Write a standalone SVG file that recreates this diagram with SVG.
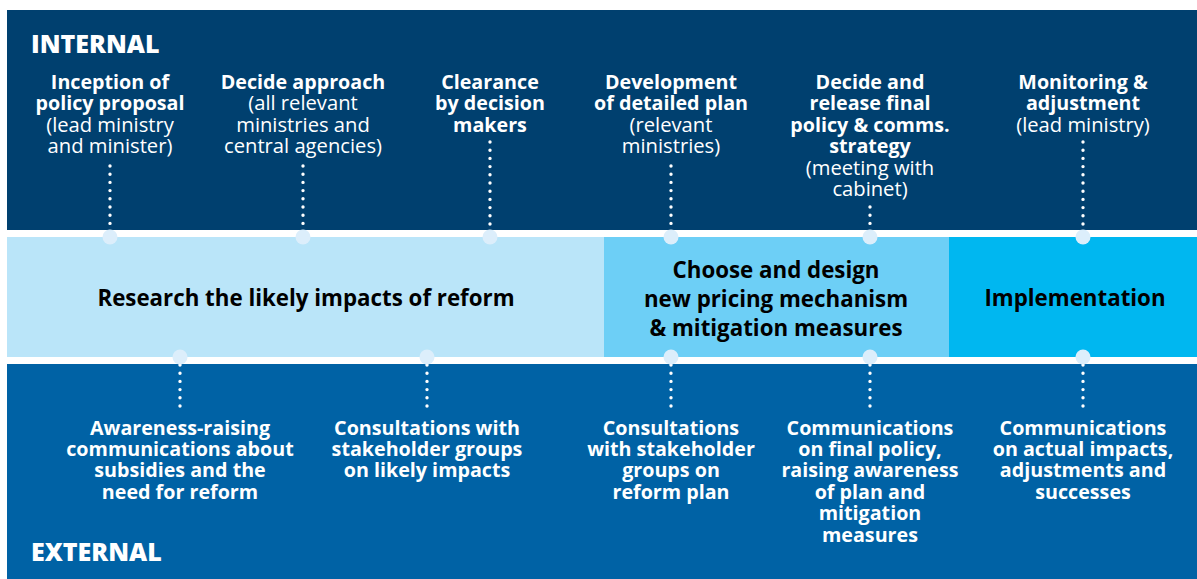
<svg xmlns="http://www.w3.org/2000/svg" width="1197" height="579" viewBox="0 0 1197 579">
<style>
.b{font-family:"Open Sans","Liberation Sans",sans-serif;font-weight:700;font-size:19.7px;fill:#fff;text-anchor:middle}
.r{font-family:"Open Sans","Liberation Sans",sans-serif;font-weight:400;font-size:20.2px;fill:#fff;text-anchor:middle}
.m{font-family:"Open Sans","Liberation Sans",sans-serif;font-weight:700;font-size:22.3px;fill:#000;text-anchor:middle}
.h{font-family:"Open Sans","Liberation Sans",sans-serif;font-weight:800;font-size:25px;fill:#fff}
.dl{stroke:#fff;stroke-width:3.4;stroke-linecap:round;stroke-dasharray:0 8.2;fill:none}
.c{fill:#DCEEFB}
</style>
<rect width="1197" height="579" fill="#fff"/>
<g id="bands">
<rect x="7" y="10" width="1190" height="220" fill="#00406F"/>
<rect x="7" y="364" width="1190" height="215" fill="#0062A5"/>
</g>
<g id="phase-research"><rect x="7" y="237" width="597" height="120" fill="#BAE5F9"/><text class="m" x="306" y="306">Research the likely impacts of reform</text></g>
<g id="phase-design"><rect x="604" y="237" width="345" height="120" fill="#6DCFF6"/><text class="m" x="776" y="278">Choose and design</text><text class="m" x="776" y="307">new pricing mechanism</text><text class="m" x="776" y="336">&amp; mitigation measures</text></g>
<g id="phase-impl"><rect x="949" y="237" width="248" height="120" fill="#00B7F0"/><text class="m" x="1075" y="306">Implementation</text></g>
<g id="label-internal"><text class="h" x="31" y="52.5">INTERNAL</text></g>
<g id="label-external"><text class="h" x="31" y="560.5">EXTERNAL</text></g>
<g id="connectors">
<line class="dl" x1="110" y1="166" x2="110" y2="232"/>
<line class="dl" x1="303" y1="166" x2="303" y2="232"/>
<line class="dl" x1="490" y1="142" x2="490" y2="232"/>
<line class="dl" x1="671" y1="166" x2="671" y2="232"/>
<line class="dl" x1="870" y1="207" x2="870" y2="232"/>
<line class="dl" x1="1083" y1="142" x2="1083" y2="232"/>
<line class="dl" x1="180" y1="365" x2="180" y2="413"/>
<line class="dl" x1="427" y1="365" x2="427" y2="413"/>
<line class="dl" x1="671" y1="365" x2="671" y2="413"/>
<line class="dl" x1="870" y1="365" x2="870" y2="413"/>
<line class="dl" x1="1083" y1="365" x2="1083" y2="413"/>
<circle class="c" cx="110" cy="237" r="7.5"/>
<circle class="c" cx="303" cy="237" r="7.5"/>
<circle class="c" cx="490" cy="237" r="7.5"/>
<circle class="c" cx="671" cy="237" r="7.5"/>
<circle class="c" cx="870" cy="237" r="7.5"/>
<circle class="c" cx="1083" cy="237" r="7.5"/>
<circle class="c" cx="180" cy="357" r="7.5"/>
<circle class="c" cx="427" cy="357" r="7.5"/>
<circle class="c" cx="671" cy="357" r="7.5"/>
<circle class="c" cx="870" cy="357" r="7.5"/>
<circle class="c" cx="1083" cy="357" r="7.5"/>
</g>
<g id="n-inception"><text class="b" x="110" y="89">Inception of</text><text class="b" x="110" y="110">policy proposal</text><text class="r" x="110" y="132">(lead ministry</text><text class="r" x="110" y="153">and minister)</text></g>
<g id="n-approach"><text class="b" x="303" y="89">Decide approach</text><text class="r" x="303" y="110">(all relevant</text><text class="r" x="303" y="132">ministries and</text><text class="r" x="303" y="153">central agencies)</text></g>
<g id="n-clearance"><text class="b" x="490" y="89">Clearance</text><text class="b" x="490" y="110">by decision</text><text class="b" x="490" y="132">makers</text></g>
<g id="n-development"><text class="b" x="671" y="89">Development</text><text class="b" x="671" y="110">of detailed plan</text><text class="r" x="671" y="132">(relevant</text><text class="r" x="671" y="153">ministries)</text></g>
<g id="n-release"><text class="b" x="870" y="89">Decide and</text><text class="b" x="870" y="110">release final</text><text class="b" x="870" y="132">policy &amp; comms.</text><text class="b" x="870" y="153">strategy</text><text class="r" x="870" y="175">(meeting with</text><text class="r" x="870" y="196">cabinet)</text></g>
<g id="n-monitoring"><text class="b" x="1083" y="89">Monitoring &amp;</text><text class="b" x="1083" y="110">adjustment</text><text class="r" x="1083" y="132">(lead ministry)</text></g>
<g id="n-awareness"><text class="b" x="180" y="435">Awareness-raising</text><text class="b" x="180" y="456">communications about</text><text class="b" x="180" y="477">subsidies and the</text><text class="b" x="180" y="499">need for reform</text></g>
<g id="n-consult1"><text class="b" x="427" y="435">Consultations with</text><text class="b" x="427" y="456">stakeholder groups</text><text class="b" x="427" y="477">on likely impacts</text></g>
<g id="n-consult2"><text class="b" x="671" y="435">Consultations</text><text class="b" x="671" y="456">with stakeholder</text><text class="b" x="671" y="477">groups on</text><text class="b" x="671" y="499">reform plan</text></g>
<g id="n-comms1"><text class="b" x="870" y="435">Communications</text><text class="b" x="870" y="456">on final policy,</text><text class="b" x="870" y="477">raising awareness</text><text class="b" x="870" y="499">of plan and</text><text class="b" x="870" y="520">mitigation</text><text class="b" x="870" y="542">measures</text></g>
<g id="n-comms2"><text class="b" x="1083" y="435">Communications</text><text class="b" x="1083" y="456">on actual impacts,</text><text class="b" x="1083" y="477">adjustments and</text><text class="b" x="1083" y="499">successes</text></g>
</svg>
